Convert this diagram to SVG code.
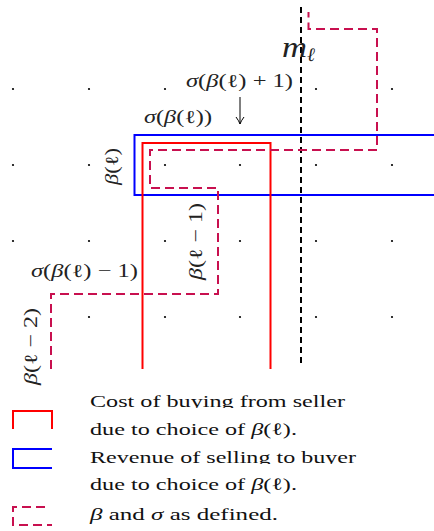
<svg xmlns="http://www.w3.org/2000/svg" width="434" height="531" viewBox="0 0 434 531">
<style>
.dot{fill:#000}
.red{fill:none;stroke:#ff0000;stroke-width:2}
.blue{fill:none;stroke:#0000ff;stroke-width:2}
.sig{fill:none;stroke:#c8104f;stroke-width:2;stroke-dasharray:9,5}
.mid{fill:none;stroke:#000;stroke-width:2;stroke-dasharray:6,4}
.m{font-family:"Liberation Serif","DejaVu Serif",serif;font-size:18.5px;fill:#222}
.it{font-style:italic}
.lg{font-family:"Liberation Serif","DejaVu Serif",serif;font-size:17.5px;fill:#111}
</style>
<defs>
<marker id="arr" markerWidth="10" markerHeight="10" refX="8" refY="5" orient="auto" markerUnits="userSpaceOnUse">
<path d="M1,1 Q5,4 8,5 Q5,6 1,9" fill="none" stroke="#000" stroke-width="1"/>
</marker>
<clipPath id="c1"><rect x="80" y="390" width="300" height="18"/></clipPath>
<clipPath id="c3"><rect x="80" y="445" width="300" height="19"/></clipPath>
</defs>
<rect width="434" height="531" fill="#fff"/>
<g id="grid">
<circle class="dot" cx="13" cy="89" r="1.1"/><circle class="dot" cx="89" cy="89" r="1.1"/><circle class="dot" cx="165" cy="89" r="1.1"/><circle class="dot" cx="316" cy="89" r="1.1"/><circle class="dot" cx="392" cy="89" r="1.1"/>
<circle class="dot" cx="13" cy="165" r="1.1"/><circle class="dot" cx="89" cy="165" r="1.1"/><circle class="dot" cx="165" cy="165" r="1.1"/><circle class="dot" cx="240" cy="165" r="1.1"/><circle class="dot" cx="316" cy="165" r="1.1"/><circle class="dot" cx="392" cy="165" r="1.1"/>
<circle class="dot" cx="13" cy="241" r="1.1"/><circle class="dot" cx="89" cy="241" r="1.1"/><circle class="dot" cx="165" cy="241" r="1.1"/><circle class="dot" cx="240" cy="241" r="1.1"/><circle class="dot" cx="316" cy="241" r="1.1"/><circle class="dot" cx="392" cy="241" r="1.1"/>
<circle class="dot" cx="89" cy="317" r="1.1"/><circle class="dot" cx="165" cy="317" r="1.1"/><circle class="dot" cx="240" cy="317" r="1.1"/><circle class="dot" cx="316" cy="317" r="1.1"/><circle class="dot" cx="392" cy="317" r="1.1"/>
</g>
<g id="connectors">
<path id="m-line" class="mid" d="M301,7 V366"/>
<path id="blue-region" class="blue" d="M436,135 H134.5 V195 H436"/>
<path id="red-region" class="red" d="M142.5,369 V143 H270.5 V369"/>
<path id="sigma-path" class="sig" d="M51,369 V294 H218 V188 H150 V150 H377 V29 H308.5 V12"/>
<path id="arrow" d="M240,97 V124" stroke="#000" stroke-width="1" fill="none" marker-end="url(#arr)"/>
</g>
<g id="labels">
<text class="m it" x="282" y="57" style="font-size:30px" textLength="25" lengthAdjust="spacingAndGlyphs">m</text>
<text class="m it" x="307" y="61" style="font-size:19px">ℓ</text>
<text class="m" x="186" y="87" textLength="107" lengthAdjust="spacingAndGlyphs"><tspan class="it">σ</tspan>(<tspan class="it">β</tspan>(ℓ) + 1)</text>
<text class="m" x="144" y="123" textLength="68" lengthAdjust="spacingAndGlyphs"><tspan class="it">σ</tspan>(<tspan class="it">β</tspan>(ℓ))</text>
<text class="m" x="31" y="277" textLength="107" lengthAdjust="spacingAndGlyphs"><tspan class="it">σ</tspan>(<tspan class="it">β</tspan>(ℓ) − 1)</text>
<text class="m" transform="translate(118,185) rotate(-90)" textLength="37" lengthAdjust="spacingAndGlyphs"><tspan class="it">β</tspan>(ℓ)</text>
<text class="m" transform="translate(202,280) rotate(-90)" textLength="77" lengthAdjust="spacingAndGlyphs"><tspan class="it">β</tspan>(ℓ − 1)</text>
<text class="m" transform="translate(37,385) rotate(-90)" textLength="77" lengthAdjust="spacingAndGlyphs"><tspan class="it">β</tspan>(ℓ − 2)</text>
</g>
<g id="legend">
<path class="red" d="M13,429 V411 H52 V429"/>
<path class="blue" d="M52,449 H13 V468 H52"/>
<path class="sig" d="M45,507 H13 V525 H52"/>
<text class="lg" x="90" y="407" textLength="255" lengthAdjust="spacingAndGlyphs" clip-path="url(#c1)">Cost of buying from seller</text>
<text class="lg" x="90" y="435" textLength="207" lengthAdjust="spacingAndGlyphs">due to choice of <tspan class="it">β</tspan>(ℓ).</text>
<text class="lg" x="90" y="463" textLength="266" lengthAdjust="spacingAndGlyphs" clip-path="url(#c3)">Revenue of selling to buyer</text>
<text class="lg" x="90" y="490" textLength="207" lengthAdjust="spacingAndGlyphs">due to choice of <tspan class="it">β</tspan>(ℓ).</text>
<text class="lg" x="90" y="520" textLength="188" lengthAdjust="spacingAndGlyphs"><tspan class="it">β</tspan> and <tspan class="it">σ</tspan> as defined.</text>
</g>
</svg>
